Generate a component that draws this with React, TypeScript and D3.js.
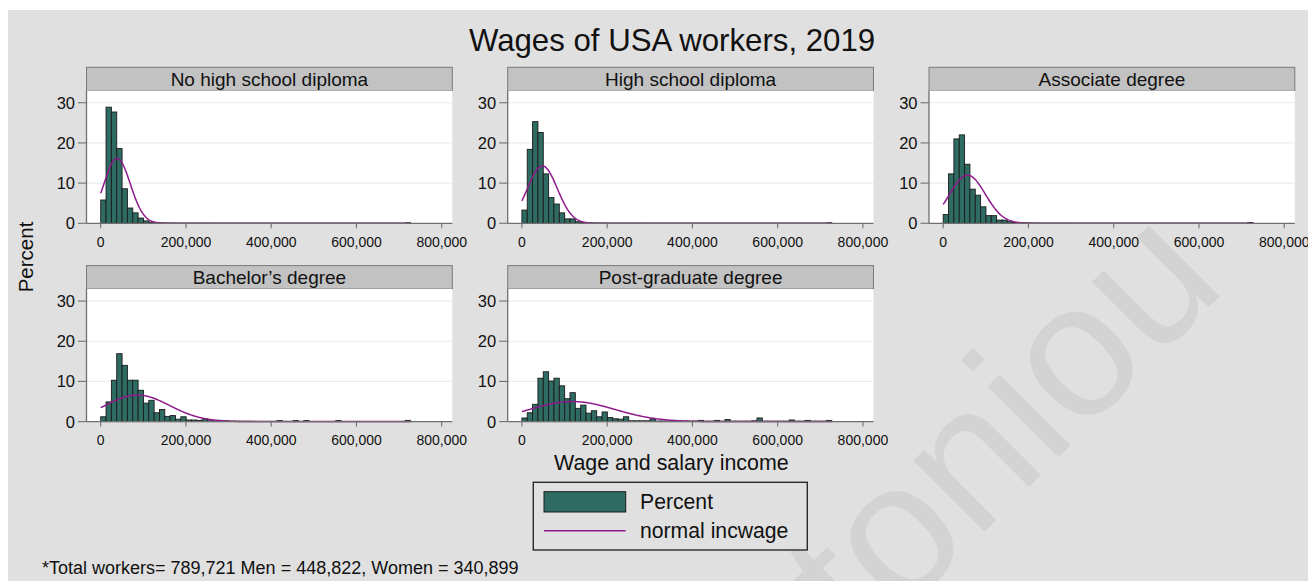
import React from "react";
import * as d3 from "d3";

const FONT = "'Liberation Sans', Arial, Helvetica, sans-serif";

const chartTitle = "Wages of USA workers, 2019";
const categories = [
  "No high school diploma",
  "High school diploma",
  "Associate degree",
  "Bachelor\u2019s degree",
  "Post-graduate degree",
];

const binWidth = 12534;
const maxIncome = 727000;

// Percent of workers per income bin (58 bins of width binWidth, starting at 0)
const noHighSchool = [
  5.8, 28.9, 27.7, 18.6, 8.6, 3.8, 2.6, 1.3, 0.6, 0.3,
  0.15, 0.1, 0.06, 0.05, 0.04, 0.03, 0.03, 0.02, 0.02, 0.02,
  0.02, 0.01, 0.01, 0.01, 0.01, 0.01, 0.01, 0.01, 0.01, 0.01,
  0.01, 0.01, 0.01, 0.01, 0.01, 0.01, 0.01, 0.01, 0.01, 0.01,
  0.01, 0.01, 0.01, 0.01, 0.01, 0.01, 0.01, 0.01, 0.01, 0.01,
  0.01, 0.01, 0.01, 0.01, 0.01, 0.01, 0.01, 0.15,
];
const highSchool = [
  3.3, 18.4, 25.3, 22.6, 12.3, 6.4, 4.8, 2.6, 1.1, 1.1,
  0.4, 0.2, 0.12, 0.08, 0.06, 0.05, 0.04, 0.03, 0.03, 0.02,
  0.02, 0.02, 0.02, 0.01, 0.01, 0.01, 0.01, 0.01, 0.01, 0.01,
  0.01, 0.01, 0.01, 0.01, 0.01, 0.01, 0.01, 0.01, 0.01, 0.01,
  0.01, 0.01, 0.01, 0.01, 0.01, 0.01, 0.01, 0.01, 0.01, 0.01,
  0.01, 0.01, 0.01, 0.01, 0.01, 0.01, 0.01, 0.15,
];
const associate = [
  2.2, 12.3, 21.0, 22.0, 14.7, 8.5, 7.0, 4.1, 1.9, 1.9,
  0.8, 0.8, 0.4, 0.2, 0.12, 0.1, 0.06, 0.05, 0.04, 0.03,
  0.03, 0.02, 0.02, 0.02, 0.01, 0.01, 0.01, 0.01, 0.01, 0.01,
  0.01, 0.01, 0.01, 0.01, 0.01, 0.01, 0.01, 0.01, 0.01, 0.01,
  0.01, 0.01, 0.01, 0.01, 0.01, 0.01, 0.01, 0.01, 0.01, 0.01,
  0.01, 0.01, 0.01, 0.01, 0.01, 0.01, 0.01, 0.2,
];
const bachelor = [
  1.2, 4.9, 10.3, 16.9, 14.0, 10.3, 10.3, 7.8, 4.6, 5.3,
  2.2, 3.0, 1.3, 1.5, 0.6, 1.2, 0.4, 0.4, 0.3, 0.7,
  0.2, 0.2, 0.3, 0.2, 0.1, 0.1, 0.1, 0.1, 0.08, 0.06,
  0.05, 0.05, 0.05, 0.25, 0.05, 0.04, 0.25, 0.04, 0.25, 0.03,
  0.03, 0.03, 0.03, 0.03, 0.25, 0.03, 0.03, 0.03, 0.02, 0.02,
  0.02, 0.02, 0.02, 0.02, 0.02, 0.02, 0.02, 0.3,
];
const postGraduate = [
  0.9, 2.2, 4.3, 10.8, 12.4, 10.1, 10.8, 8.9, 5.7, 7.2,
  3.3, 4.1, 2.1, 2.7, 1.2, 2.4, 1.0, 0.7, 0.6, 1.2,
  0.2, 0.2, 0.2, 0.2, 0.7, 0.15, 0.15, 0.1, 0.1, 0.1,
  0.1, 0.1, 0.1, 0.3, 0.1, 0.1, 0.3, 0.1, 0.5, 0.1,
  0.1, 0.1, 0.1, 0.2, 0.9, 0.1, 0.1, 0.1, 0.1, 0.1,
  0.4, 0.1, 0.1, 0.3, 0.1, 0.1, 0.1, 0.3,
];
const seriesValues = [noHighSchool, highSchool, associate, bachelor, postGraduate];

// Normal overlay parameters (mean, sd of incwage) per category
const means = [38500, 48000, 57000, 86000, 118000];
const sds = [31000, 35000, 41700, 75700, 100000];

const xTicks = [0, 200000, 400000, 600000, 800000];
const yTicks = [0, 10, 20, 30];

const xTitle = "Wage and salary income";
const yTitle = "Percent";
const legendLabels = ["Percent", "normal incwage"];
const footnote = "*Total workers= 789,721 Men = 448,822, Women = 340,899";
const watermark = "toniou";

const BG = "#e0e0e0";
const BAR = "#2e6b62";
const LINE = "#8e1b8c";
const AXIS = "#6f6f6f";
const GRID = "#e6eef0";

const PANEL_W = 365.8;
const HEADER_H = 23.4;
const PLOT_H = 132.6;
const colLefts = [86.5, 507.7, 929];
const rowTops = [67.3, 265.6];

const fmt = d3.format(",");

function Panel({ title, values, mean, sd, left, top }) {
  const hb = top + HEADER_H;
  const bottom = hb + PLOT_H;
  const x = d3.scaleLinear().domain([0, 800000]).range([left + 14.2, left + 355.2]);
  const y = d3.scaleLinear().domain([0, 33]).range([bottom, hb]);
  const samples = d3.range(0, maxIncome, 1500).concat([maxIncome]);
  const line = d3
    .line()
    .x((v) => x(v))
    .y((v) => {
      const z = (v - mean) / sd;
      const pdf = Math.exp(-0.5 * z * z) / (sd * Math.sqrt(2 * Math.PI));
      return y(pdf * binWidth * 100);
    });
  return (
    <g>
      <rect x={left} y={top} width={PANEL_W} height={HEADER_H} fill="#c2c2c2" stroke="#7a7a7a" strokeWidth={1} />
      <text x={left + PANEL_W / 2} y={top + HEADER_H / 2} dy="0.36em" textAnchor="middle" fontSize={19} fill="#111">
        {title}
      </text>
      <rect x={left} y={hb} width={PANEL_W} height={PLOT_H} fill="#ffffff" />
      {yTicks.filter((t) => t > 0).map((t) => (
        <line key={t} x1={left} x2={left + PANEL_W} y1={y(t)} y2={y(t)} stroke={GRID} strokeWidth={1.2} />
      ))}
      {values.map((v, i) => {
        const x0 = x(i * binWidth);
        const x1 = x((i + 1) * binWidth);
        return (
          <rect
            key={i}
            x={x0}
            y={y(v)}
            width={x1 - x0}
            height={y(0) - y(v)}
            fill={BAR}
            stroke="#1b1b1b"
            strokeWidth={0.9}
          />
        );
      })}
      <path d={line(samples)} fill="none" stroke={LINE} strokeWidth={1.5} />
      <line x1={left} x2={left} y1={hb} y2={bottom} stroke={AXIS} strokeWidth={1.3} />
      <line x1={left} x2={left + PANEL_W} y1={bottom} y2={bottom} stroke={AXIS} strokeWidth={1.3} />
      {yTicks.map((t) => (
        <g key={t}>
          <line x1={left - 8.5} x2={left} y1={y(t)} y2={y(t)} stroke={AXIS} strokeWidth={1.1} />
          <text x={left - 11.5} y={y(t)} dy="0.36em" textAnchor="end" fontSize={16.5} fill="#111">
            {t}
          </text>
        </g>
      ))}
      {xTicks.map((t) => (
        <g key={t}>
          <line x1={x(t)} x2={x(t)} y1={bottom} y2={bottom + 5} stroke={AXIS} strokeWidth={1.1} />
          <text x={x(t)} y={bottom + 23.4} textAnchor="middle" fontSize={14} fill="#111">
            {fmt(t)}
          </text>
        </g>
      ))}
    </g>
  );
}

export default function App() {
  return (
    <svg
      width={1308}
      height={581}
      style={{ position: "absolute", left: 0, top: 0, display: "block" }}
      fontFamily={FONT}
    >
      <rect x={0} y={0} width={1308} height={581} fill="#ffffff" />
      <rect x={8} y={10} width={1300} height={571} fill={BG} />
      <text
        x={863}
        y={653}
        transform="rotate(-45 863 653)"
        fontSize={190}
        fill="#d3d3d3"
      >
        {watermark}
      </text>
      <text x={672} y={51} textAnchor="middle" fontSize={31.2} fill="#111">
        {chartTitle}
      </text>
      {categories.map((c, i) => (
        <Panel
          key={c}
          title={c}
          values={seriesValues[i]}
          mean={means[i]}
          sd={sds[i]}
          left={colLefts[i % 3]}
          top={rowTops[Math.floor(i / 3)]}
        />
      ))}
      <text
        x={25.5}
        y={257}
        transform="rotate(-90 25.5 257)"
        dy="0.36em"
        textAnchor="middle"
        fontSize={20.5}
        fill="#111"
      >
        {yTitle}
      </text>
      <text x={671.3} y={469.5} textAnchor="middle" fontSize={21.4} fill="#111">
        {xTitle}
      </text>
      <g>
        <rect x={533.3} y={482.3} width={274} height={67.7} fill={BG} stroke="#2a2a2a" strokeWidth={1.4} />
        <rect x={544} y={491.7} width={81.7} height={20.3} fill={BAR} stroke="#1b1b1b" strokeWidth={1} />
        <line x1={544} x2={625.7} y1={530.7} y2={530.7} stroke={LINE} strokeWidth={1.6} />
        <text x={640} y={501.8} dy="0.36em" fontSize={21.2} fill="#111">
          {legendLabels[0]}
        </text>
        <text x={640} y={530.7} dy="0.36em" fontSize={21.2} fill="#111">
          {legendLabels[1]}
        </text>
      </g>
      <text x={42} y={574} fontSize={18} fill="#111">
        {footnote}
      </text>
    </svg>
  );
}
